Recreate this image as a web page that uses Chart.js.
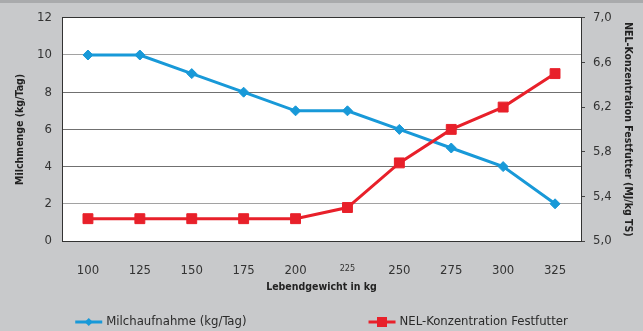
<!DOCTYPE html>
<html lang="de">
<head>
<meta charset="utf-8">
<title>Milchaufnahme und NEL-Konzentration</title>
<script src="https://cdn.jsdelivr.net/npm/chart.js@4.4.0/dist/chart.umd.min.js"></script>
<style>
    html, body { margin: 0; padding: 0; }
    #chart {
        display: block;
        background: linear-gradient(#a9aaac 0 3px, #c8c9cb 3px);
    }
</style>
</head>
<body>
<canvas id="chart" width="643" height="331"></canvas>
<script>
// --- Daten ---
const gewicht = ['100', '125', '150', '175', '200', '225', '250', '275', '300', '325'];
const milchaufnahme = [10, 10, 9, 8, 7, 7, 6, 5, 4, 2];
const nelKonzentration = [5.2, 5.2, 5.2, 5.2, 5.2, 5.3, 5.7, 6.0, 6.2, 6.5];

const blau = '#1899d8';
const rot = '#e8202a';
const schrift = "'Liberation Sans Narrow', 'DejaVu Sans Condensed', 'Liberation Sans', sans-serif";

// weisser Plotbereich
const plotHintergrund = {
    id: 'plotHintergrund',
    beforeDraw(chart) {
        const { ctx, chartArea: a } = chart;
        ctx.save();
        ctx.fillStyle = '#ffffff';
        ctx.fillRect(a.left, a.top, a.right - a.left, a.bottom - a.top);
        ctx.restore();
    }
};

// Legende unten: Linie mit Marker + Text
const legendeUnten = {
    id: 'legendeUnten',
    afterDraw(chart) {
        const { ctx, chartArea: a } = chart;
        const y = chart.height - 9;
        const linie = 27, abstand = 4, luecke = 122;
        ctx.save();
        ctx.font = '13px ' + schrift;
        ctx.textBaseline = 'middle';
        const items = chart.data.datasets.map(ds => ({
            text: ds.label,
            color: ds.borderColor,
            style: ds.pointStyle,
            w: linie + abstand + ctx.measureText(ds.label).width
        }));
        const gesamt = items.reduce((s, it) => s + it.w, 0) + luecke * (items.length - 1);
        let x = (a.left + a.right) / 2 - gesamt / 2;
        items.forEach(it => {
            ctx.strokeStyle = it.color;
            ctx.fillStyle = it.color;
            ctx.lineWidth = 3;
            ctx.beginPath();
            ctx.moveTo(x, y);
            ctx.lineTo(x + linie, y);
            ctx.stroke();
            const mx = x + linie / 2;
            ctx.beginPath();
            if (it.style === 'rect') {
                ctx.rect(mx - 5, y - 5, 10, 10);
            } else {
                ctx.moveTo(mx - 4, y); ctx.lineTo(mx, y - 4);
                ctx.lineTo(mx + 4, y); ctx.lineTo(mx, y + 4);
                ctx.closePath();
            }
            ctx.fill();
            ctx.fillStyle = '#2a2a2a';
            ctx.fillText(it.text, x + linie + abstand, y);
            x += it.w + luecke;
        });
        ctx.restore();
    }
};

function gitterFarbe(c) {
    const v = c.tick && c.tick.value;
    if (v === 0) return 'rgba(0,0,0,0)';
    if (v === 12) return '#333333';
    if (v === 10 || v === 2) return '#a2a2a2';
    return '#707070';
}

new Chart(document.getElementById('chart'), {
    type: 'line',
    data: {
        labels: gewicht,
        datasets: [
            {
                label: 'Milchaufnahme (kg/Tag)',
                data: milchaufnahme,
                yAxisID: 'y',
                borderColor: blau,
                backgroundColor: blau,
                borderWidth: 3,
                tension: 0,
                pointStyle: 'rectRot',
                pointRadius: 5,
                pointBorderWidth: 1,
                order: 1
            },
            {
                label: 'NEL-Konzentration Festfutter',
                data: nelKonzentration,
                yAxisID: 'y2',
                borderColor: rot,
                backgroundColor: rot,
                borderWidth: 3,
                tension: 0,
                pointStyle: 'rect',
                pointRadius: 7,
                pointBorderWidth: 1,
                order: 0
            }
        ]
    },
    options: {
        responsive: false,
        animation: false,
        layout: { padding: { top: 15, bottom: 31, left: 0, right: 0 } },
        plugins: {
            legend: { display: false },
            tooltip: { enabled: false }
        },
        scales: {
            x: {
                offset: true,
                grid: { display: false },
                border: { display: true, color: '#333333', width: 1 },
                ticks: {
                    color: '#333333',
                    padding: 14,
                    maxRotation: 0,
                    font: c => ({ family: schrift, size: c.index === 5 ? 9 : 13 })
                },
                title: {
                    display: true,
                    text: 'Lebendgewicht in kg',
                    color: '#222222',
                    font: { family: schrift, size: 10.5, weight: 'bold' },
                    padding: { top: 0, bottom: 6 }
                },
                afterFit: s => { s.height = 59; }
            },
            y: {
                position: 'left',
                min: 0,
                max: 12,
                ticks: {
                    stepSize: 2,
                    color: '#333333',
                    padding: 10,
                    font: { family: schrift, size: 13 }
                },
                grid: { color: gitterFarbe, drawTicks: false, lineWidth: 1 },
                border: { display: true, color: '#333333', width: 1 },
                title: {
                    display: true,
                    text: 'Milchmenge (kg/Tag)',
                    color: '#222222',
                    font: { family: schrift, size: 10.5, weight: 'bold' },
                    padding: { top: 14, bottom: 0 }
                },
                afterFit: s => { s.width = 62; }
            },
            y2: {
                position: 'right',
                min: 5,
                max: 7,
                ticks: {
                    stepSize: 0.4,
                    color: '#333333',
                    padding: 8,
                    font: { family: schrift, size: 13 },
                    callback: v => v.toFixed(1).replace('.', ',')
                },
                grid: { drawOnChartArea: false, drawTicks: true, tickLength: 4, color: '#444444' },
                border: { display: true, color: '#333333', width: 1 },
                title: {
                    display: true,
                    text: 'NEL-Konzentration Festfutter (MJ/kg TS)',
                    color: '#222222',
                    font: { family: schrift, size: 10.5, weight: 'bold' },
                    padding: { top: 9, bottom: 0 }
                },
                afterFit: s => { s.width = 62; }
            }
        }
    },
    plugins: [plotHintergrund, legendeUnten]
});
</script>
</body>
</html>
